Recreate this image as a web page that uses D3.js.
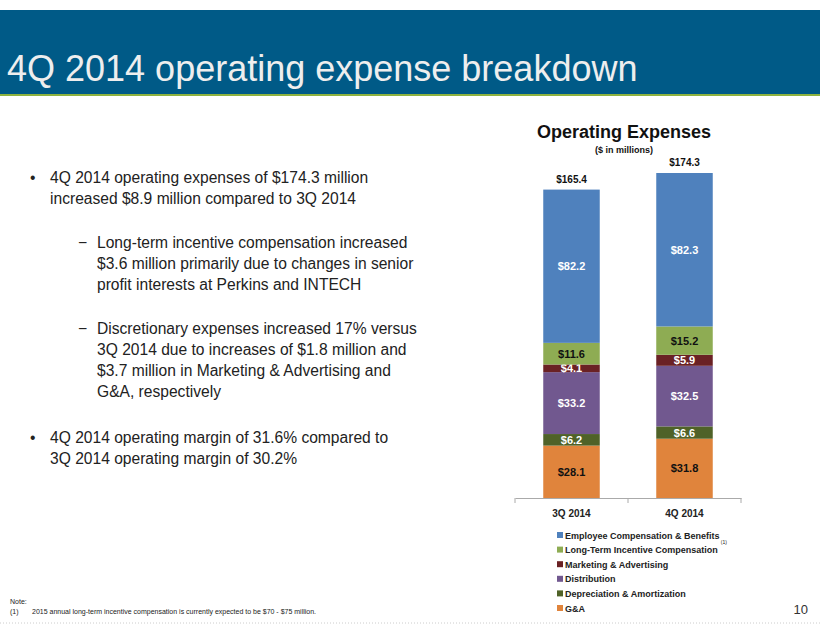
<!DOCTYPE html>
<html>
<head>
<meta charset="utf-8">
<style>
  body { margin: 0; background: #fff; }
  svg { font-family: Arial, "Liberation Sans", sans-serif; }
  .bullet { font-size: 15.6px; fill: #222; }
  .seg-label { font-size: 11px; font-weight: bold; }
  .x .domain, .x .tick line { stroke: #aaa; }
  .x .tick text { font-size: 10px; font-weight: bold; fill: #222; }
  .legend text { font-size: 9px; font-weight: bold; fill: #222; }
</style>
</head>
<body>
<svg width="820" height="635"></svg>
<script src="https://d3js.org/d3.v7.min.js"></script>
<script>
// data
let quarters = ["3Q 2014", "4Q 2014"];
let categories = ["G&A", "Depreciation & Amortization", "Distribution",
  "Marketing & Advertising", "Long-Term Incentive Compensation", "Employee Compensation & Benefits"];
let gaVals = [28.1, 31.8];
let daVals = [6.2, 6.6];
let distVals = [33.2, 32.5];
let mktVals = [4.1, 5.9];
let ltiVals = [11.6, 15.2];
let empVals = [82.2, 82.3];
let totals = [165.4, 174.3];
let colors = ["#e0843c", "#4f6228", "#71588f", "#6a2124", "#8eac53", "#4f81bd"];
let darkText = ["G&A", "Long-Term Incentive Compensation"];

let series = [gaVals, daVals, distVals, mktVals, ltiVals, empVals];
let rows = quarters.map((q, i) => {
  let r = { quarter: q };
  categories.forEach((c, k) => r[c] = series[k][i]);
  return r;
});

let svg = d3.select("svg");

// header
svg.append("rect").attr("x", 0).attr("y", 10).attr("width", 820).attr("height", 84).style("fill", "#005a87");
svg.append("rect").attr("x", 0).attr("y", 94).attr("width", 820).attr("height", 2).style("fill", "#8db23f");
svg.append("text").attr("x", 7).attr("y", 81).text("4Q 2014 operating expense breakdown")
  .style("font-size", "36px").style("fill", "#eeeeee");

// bullets
let para = [
  { bx: 30, tx: 50, y: 183, mark: "•", lines: ["4Q 2014 operating expenses of $174.3 million", "increased $8.9 million compared to 3Q 2014"] },
  { bx: 78, tx: 97, y: 248, mark: "−", lines: ["Long-term incentive compensation increased", "$3.6 million primarily due to changes in senior", "profit interests at Perkins and INTECH"] },
  { bx: 78, tx: 97, y: 334, mark: "−", lines: ["Discretionary expenses increased 17% versus", "3Q 2014 due to increases of $1.8 million and", "$3.7 million in Marketing & Advertising and", "G&A, respectively"] },
  { bx: 30, tx: 50, y: 443, mark: "•", lines: ["4Q 2014 operating margin of 31.6% compared to", "3Q 2014 operating margin of 30.2%"] }
];
para.forEach(p => {
  svg.append("text").attr("class", "bullet").attr("x", p.bx).attr("y", p.y).text(p.mark);
  p.lines.forEach((l, i) => {
    svg.append("text").attr("class", "bullet").attr("x", p.tx).attr("y", p.y + i * 21).text(l);
  });
});

// chart
let x = d3.scaleBand().domain(quarters).range([515, 741]).paddingInner(0.5).paddingOuter(0.25);
let y = d3.scaleLinear().domain([0, 174.3]).range([498, 173]);

svg.append("text").attr("x", 624).attr("y", 138).attr("text-anchor", "middle")
  .text("Operating Expenses").style("font-size", "18px").style("font-weight", "bold").style("fill", "#111");
svg.append("text").attr("x", 624).attr("y", 153).attr("text-anchor", "middle")
  .text("($ in millions)").style("font-size", "9px").style("font-weight", "bold").style("fill", "#111");

let stack = d3.stack().keys(categories)(rows);

let layers = svg.append("g").selectAll("g").data(stack).join("g")
  .style("fill", (d, i) => colors[i]);

layers.selectAll("rect").data(d => d).join("rect")
  .attr("x", d => x(d.data.quarter))
  .attr("width", x.bandwidth())
  .attr("y", d => y(d[1]))
  .attr("height", d => y(d[0]) - y(d[1]));

layers.each(function (layer) {
  d3.select(this).selectAll("text").data(layer).join("text")
    .attr("class", "seg-label")
    .attr("x", d => x(d.data.quarter) + x.bandwidth() / 2)
    .attr("y", d => (y(d[0]) + y(d[1])) / 2 + 4)
    .attr("text-anchor", "middle")
    .style("fill", darkText.includes(layer.key) ? "#111" : "#fff")
    .text(d => "$" + (d[1] - d[0]).toFixed(1));
});

svg.append("g").selectAll("text").data(quarters).join("text")
  .attr("x", d => x(d) + x.bandwidth() / 2)
  .attr("y", (d, i) => y(totals[i]) - 7)
  .attr("text-anchor", "middle")
  .style("font-size", "10px").style("font-weight", "bold").style("fill", "#111")
  .text((d, i) => "$" + totals[i].toFixed(1));

svg.append("g").attr("class", "x")
  .attr("transform", "translate(0,498)")
  .call(d3.axisBottom(x).tickSize(0).tickPadding(12));
svg.append("g").selectAll("line").data([515, 628, 741]).join("line")
  .attr("x1", d => d).attr("x2", d => d).attr("y1", 498).attr("y2", 503)
  .style("stroke", "#aaa");

// legend
let legendOrder = categories.slice().reverse();
let legendColors = colors.slice().reverse();
let legend = svg.append("g").attr("class", "legend").selectAll("g").data(legendOrder).join("g")
  .attr("transform", (d, i) => `translate(557,${532 + i * 14.6})`);
legend.append("rect").attr("width", 6).attr("height", 6).style("fill", (d, i) => legendColors[i]);
legend.append("text").attr("x", 8).attr("y", 6.5).text(d => d);
// footnote marker after the LTI legend entry
let ltiText = legend.filter(d => d === "Long-Term Incentive Compensation").select("text").node();
let supX = 557 + 8 + ltiText.getComputedTextLength() + 3;
svg.append("text").attr("x", supX).attr("y", 544).text("(1)")
  .style("font-size", "5px").style("fill", "#222");

// footnote
svg.append("text").attr("x", 10).attr("y", 604).text("Note:").style("font-size", "7px").style("fill", "#222");
svg.append("text").attr("x", 10).attr("y", 614).text("(1)").style("font-size", "7px").style("fill", "#222");
svg.append("text").attr("x", 32).attr("y", 614).text("2015 annual long-term incentive compensation is currently expected to be $70 - $75 million.")
  .style("font-size", "7px").style("fill", "#222");
svg.append("text").attr("x", 808).attr("y", 614).attr("text-anchor", "end").text("10")
  .style("font-size", "13px").style("fill", "#333");
svg.append("line").attr("x1", 0).attr("x2", 820).attr("y1", 623).attr("y2", 623)
  .style("stroke", "#ccc").style("stroke-dasharray", "1,2");
</script>
</body>
</html>
